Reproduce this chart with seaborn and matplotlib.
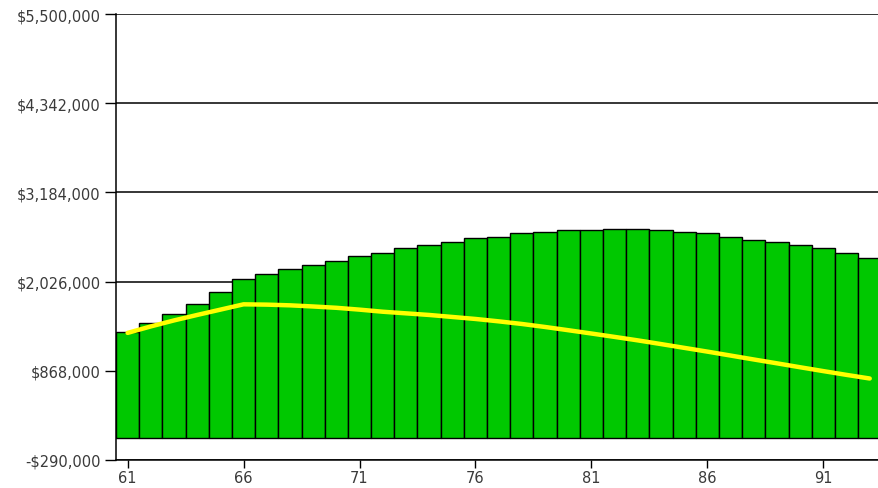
import matplotlib
matplotlib.use("Agg")
import matplotlib.pyplot as plt
import seaborn as sns
import pandas as pd
from matplotlib.ticker import FuncFormatter, FixedLocator

ages = list(range(61, 94))
bar_values = [1366000, 1488000, 1609000, 1735000, 1887000, 2061000, 2121000, 2186000,
              2247000, 2295000, 2355000, 2403000, 2464000, 2503000, 2546000, 2589000,
              2608000, 2654000, 2672000, 2698000, 2698000, 2715000, 2715000, 2698000,
              2672000, 2654000, 2606000, 2568000, 2542000, 2503000, 2459000, 2399000,
              2334000]
line_values = [1360000, 1444000, 1522000, 1593000, 1662000, 1731000, 1727000, 1718000,
               1703000, 1686000, 1662000, 1635000, 1614000, 1593000, 1567000, 1541000,
               1510000, 1476000, 1437000, 1395000, 1352000, 1308000, 1263000, 1215000,
               1166000, 1117000, 1066000, 1015000, 965000, 914000, 864000, 815000, 768000]
y_ticks = [-290000, 868000, 2026000, 3184000, 4342000, 5500000]
x_ticks = [61, 66, 71, 76, 81, 86, 91]

df = pd.DataFrame({"age": ages, "value": bar_values, "line": line_values})

sns.set_theme(style="white")
plt.rcParams['font.family'] = ['DejaVu Sans']

fig = plt.figure(figsize=(8.79, 4.89), dpi=100)
ax = fig.add_axes([116/879, 28/489, 1 - 116/879, (461 - 15)/489])

for yt in y_ticks:
    ax.axhline(yt, color="black", lw=1.1, zorder=0)

sns.barplot(data=df, x="age", y="value", native_scale=True, width=1.0,
            color="#00C800", saturation=1, edgecolor="black", linewidth=1.0,
            ax=ax, zorder=2)
sns.lineplot(data=df, x="age", y="line", color="#FFFF00", lw=3.2, ax=ax, zorder=3)

ax.set_xlim(60.5, 93.4)
ax.set_ylim(-290000, 5500000)
ax.yaxis.set_major_locator(FixedLocator(y_ticks))
ax.xaxis.set_major_locator(FixedLocator(x_ticks))

def fmt(v, pos):
    v = int(round(v))
    return ("-$" if v < 0 else "$") + f"{abs(v):,}"

ax.yaxis.set_major_formatter(FuncFormatter(fmt))
ax.set_xlabel("")
ax.set_ylabel("")

for s in ["top", "right"]:
    ax.spines[s].set_visible(False)
for s in ["left", "bottom"]:
    ax.spines[s].set_visible(True)
    ax.spines[s].set_color("black")
    ax.spines[s].set_linewidth(1.1)

ax.tick_params(axis="y", which="major", left=True, length=8, width=1, color="black",
               pad=3, labelsize=10.5, labelcolor="#3a3a3a")
ax.tick_params(axis="x", which="major", bottom=True, length=5.5, width=1, color="black",
               pad=2, labelsize=10.5, labelcolor="#3a3a3a")

fig.savefig("out.png", dpi=100)
